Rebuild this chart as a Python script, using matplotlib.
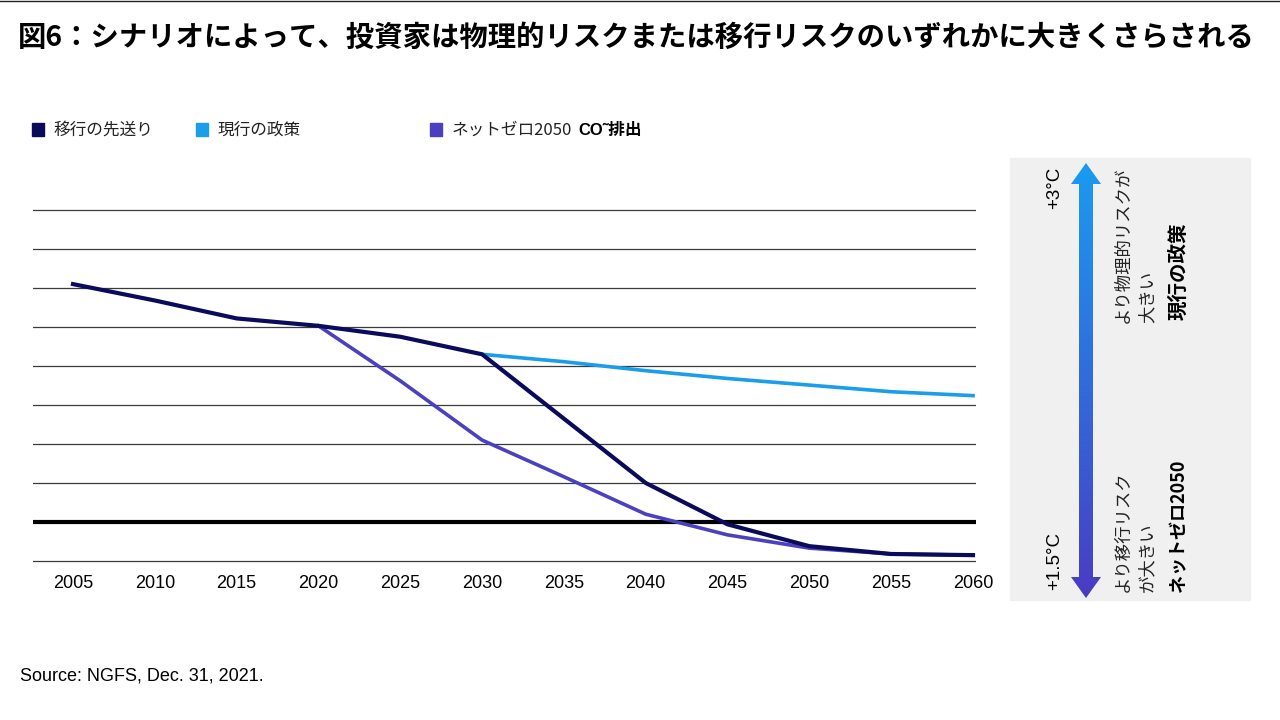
import numpy as np
import matplotlib.pyplot as plt
from matplotlib.patches import Polygon, Rectangle

plt.rcParams['font.family'] = ['Noto Sans CJK JP', 'DejaVu Sans']

# data (grid units, bottom line = 0)
years = [2005, 2010, 2015, 2020, 2025, 2030, 2035, 2040, 2045, 2050, 2055, 2060]
delayed = [7.10, 6.68, 6.22, 6.03, 5.75, 5.30, 3.65, 2.00, 0.94, 0.38, 0.18, 0.15]
current = [np.nan] * 5 + [5.30, 5.11, 4.88, 4.68, 4.51, 4.34, 4.24]
netzero = [np.nan] * 3 + [6.03, 4.62, 3.10, 2.16, 1.20, 0.67, 0.33, 0.18, 0.15]
grid_levels = [0, 1, 2, 3, 4, 5, 6, 7, 8, 9]
threshold = 1

c_delay = '#0b0b5c'
c_current = '#1a9deb'
c_net = '#4b41c0'

W, H = 1280, 720
fig = plt.figure(figsize=(12.8, 7.2), dpi=100)

# main chart axes placed in pixel terms
px_per_unit = 39.0
ymin, ymax = -0.3, 9.3
bottom_px = 561 + 0.3 * px_per_unit
top_px = 210 - 0.3 * px_per_unit
x_left, x_right = 33, 976
ax = fig.add_axes([x_left / W, 1 - bottom_px / H, (x_right - x_left) / W, (bottom_px - top_px) / H])
px_per_year = (973 - 73) / 55.0
ax.set_xlim(2005 - (73 - x_left) / px_per_year, 2060 + (x_right - 973) / px_per_year)
ax.set_ylim(ymin, ymax)

for g in grid_levels:
    if g == threshold:
        ax.axhline(g, color='black', lw=3, zorder=1)
    else:
        ax.axhline(g, color='#3a3a3a', lw=0.9, zorder=1)

ax.plot(years, netzero, color=c_net, lw=2.6, zorder=3)
ax.plot(years, current, color=c_current, lw=2.6, zorder=3)
ax.plot(years, delayed, color=c_delay, lw=3, zorder=4)

ax.set_xticks(years)
ax.set_xticklabels([str(y) for y in years], fontsize=13, family=['Liberation Sans'])
ax.tick_params(axis='x', length=0, pad=2)
ax.set_yticks([])
for s in ax.spines.values():
    s.set_visible(False)

# overlay axes in pixel coordinates for the rest
ov = fig.add_axes([0, 0, 1, 1], zorder=-1)
ov.set_xlim(0, W)
ov.set_ylim(H, 0)
ov.axis('off')
ov2 = fig.add_axes([0, 0, 1, 1], zorder=5)
ov2.set_xlim(0, W)
ov2.set_ylim(H, 0)
ov2.axis('off')
ov2.patch.set_alpha(0)

ov.plot([0, W], [1, 1], color='#222222', lw=1)

fig.text(18 / W, 1 - 38 / H, '図6：シナリオによって、投資家は物理的リスクまたは移行リスクのいずれかに大きくさらされる',
         fontsize=20.4, fontweight='bold', va='center', ha='left')

# legend
leg = [('移行の先送り', c_delay, 32), ('現行の政策', c_current, 196), ('ネットゼロ2050', c_net, 430)]
for label, col, x0 in leg:
    ov2.add_patch(Rectangle((x0, 123), 12, 13, color=col))
    t = ov2.text(x0 + 22, 130, label, fontsize=12, va='center', ha='left', color='#222222')
fig.canvas.draw()
bb = t.get_window_extent()
ov2.text(bb.x1 + 6, 130, 'CO˜排出', fontsize=12, fontweight='bold', va='center', ha='left',
         family=['Liberation Sans', 'Noto Sans CJK JP'])

# right panel
ov2.add_patch(Rectangle((1010, 158), 240, 442, color='#f0f0f0', zorder=0))
cx = 1086
shaft, head = 7, 15
tip_top, base_top = 163, 184
tip_bot, base_bot = 598, 577
pts = [(cx, tip_top), (cx + head, base_top), (cx + shaft, base_top), (cx + shaft, base_bot),
       (cx + head, base_bot), (cx, tip_bot), (cx - head, base_bot), (cx - shaft, base_bot),
       (cx - shaft, base_top), (cx - head, base_top)]
poly = Polygon(pts, closed=True, facecolor='none', edgecolor='none')
ov2.add_patch(poly)
top_rgb = np.array([0x1a, 0x9b, 0xf0]) / 255
bot_rgb = np.array([0x4a, 0x3c, 0xc4]) / 255
n = 256
tt = np.linspace(0, 1, n)[:, None]
grad = (top_rgb[None, :] * (1 - tt) + bot_rgb[None, :] * tt)[:, None, :]
im = ov2.imshow(grad, extent=(cx - head, cx + head, tip_bot, tip_top), origin='upper',
                aspect='auto', zorder=2)
im.set_clip_path(poly)
ov2.set_xlim(0, W)
ov2.set_ylim(H, 0)

ov2.text(1055, 167, '+3°C', rotation=90, fontsize=13.5, ha='center', va='top',
         family=['Liberation Sans'])
ov2.text(1055, 590, '+1.5°C', rotation=90, fontsize=13.5, ha='center', va='bottom',
         family=['Liberation Sans'])
ov2.text(1135, 323, 'より物理的リスクが\n大きい', rotation=90, fontsize=12.5, ha='center', va='bottom',
         multialignment='left', linespacing=1.45, color='#222222')
ov2.text(1135, 592, 'より移行リスク\nが大きい', rotation=90, fontsize=12.5, ha='center', va='bottom',
         multialignment='left', linespacing=1.45, color='#222222')
ov2.text(1179, 320, '現行の政策', rotation=90, fontsize=14, fontweight='bold', ha='center', va='bottom')
ov2.text(1179, 592, 'ネットゼロ2050', rotation=90, fontsize=13, fontweight='bold', ha='center', va='bottom')

fig.text(20 / W, 1 - 676 / H, 'Source: NGFS, Dec. 31, 2021.', fontsize=13, va='center', ha='left',
         family=['Liberation Sans'])

fig.savefig('out.png', dpi=100)
